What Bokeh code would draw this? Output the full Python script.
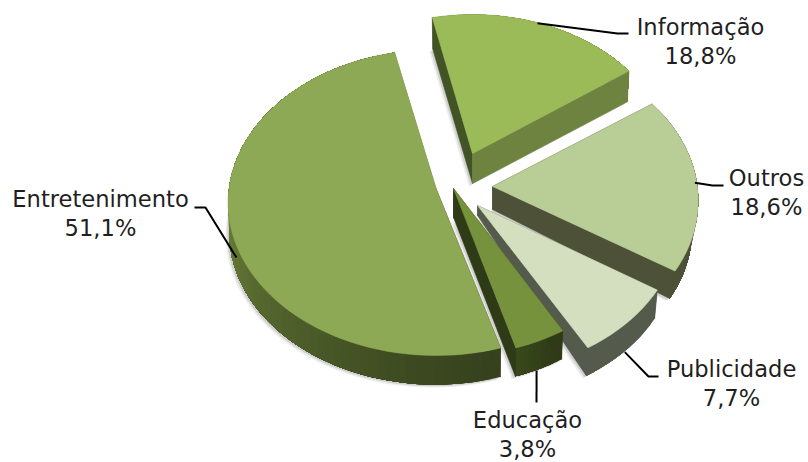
import numpy as np
from bokeh.models import Range1d, ColumnDataSource
from bokeh.plotting import figure
from bokeh.embed import file_html
from bokeh.resources import INLINE
from bokeh.core.properties import value

# data
labels = ["Informação", "Outros", "Publicidade", "Educação", "Entretenimento"]
percent_text = ["18,8%", "18,6%", "7,7%", "3,8%", "51,1%"]
shares = [18.8, 18.6, 7.7, 3.8, 51.1]

# style
top_colors = ["#9BBB59", "#B9CD96", "#D3DFBF", "#76923C", "#8EA955"]
cut_start_colors = ["#425325", "#4C5138", "#545B4C", "#2F3A17", "#36421D"]
cut_end_colors = ["#6E8340", "#4C5138", "#545B4C", "#2F3A17", "#6C8039"]
arc_start_colors = ["#6E8340", "#4C5138", "#545B4C", "#2F3A17", "#36421D"]
arc_end_colors = ["#6E8340", "#4C5138", "#545B4C", "#3A4A1C", "#6F843C"]
apex_x = [472, 492, 477, 453, 435.5]
apex_y = [153, 186, 205, 188, 188]
apex_depth = [30, 23, 10, 29, 30]
x_scale = [0.97, 0.99, 0.975, 0.965, 1.0]
base_scale = [0.99, 0.97, 0.985, 0.99, 0.995]
leader_on_wall = [False, False, True, True, True]
leader_shift = [-2, -2, -3, -3.5, 5.5]
elbow_x = [617, 712, 648, 536, 205]
elbow_y = [33, 185, 376, 402, 207]
end_x = [628, 723, 658, 536, 194]
end_y = [33, 185, 376, 402, 207]
label_x = [700, 766, 731, 527, 100]
label_y = [26, 177, 368, 419, 198]
line_gap = 29

START_DEG = -12.6
RX, RY, K, DEPTH = 207.0, 151.7, 0.0915, 30.0


def disc(t):
    w = 1 + K * np.cos(t)
    return RX * np.sin(t) / w, -RY * np.cos(t) / w


def mix(a, b, f):
    ca = [int(a[i:i + 2], 16) for i in (1, 3, 5)]
    cb = [int(b[i:i + 2], 16) for i in (1, 3, 5)]
    return "#%02x%02x%02x" % tuple(round(x + (y - x) * f) for x, y in zip(ca, cb))


p = figure(width=808, height=462, output_backend="svg", toolbar_location=None,
           x_range=Range1d(0, 808), y_range=Range1d(462, 0), min_border=0)
p.axis.visible = False
p.grid.visible = False
p.outline_line_color = None
p.background_fill_color = None
p.border_fill_color = None


def poly(xs, ys, color, alpha=1.0, lw=0.6):
    p.patch(list(xs), list(ys), fill_color=color, line_color=color if lw else None,
            line_width=lw, fill_alpha=alpha, line_alpha=alpha)


edges = START_DEG + np.cumsum([0] + [s * 3.6 for s in shares])
slices = []
for i in range(len(shares)):
    ts = np.radians(edges[i])
    te = np.radians(edges[i + 1])
    t = np.linspace(ts, te, int(max(12, (te - ts) * 24)))
    dx, dy = disc(t)
    dx = dx * x_scale[i]
    ax, ay = apex_x[i], apex_y[i]
    x, y = ax + dx, ay + dy
    bx = ax + dx * base_scale[i]
    by = ay + dy * base_scale[i] + DEPTH
    slices.append((t, x, y, bx, by, ax, ay, ay + apex_depth[i]))

# soft shadows under the bases
for t, x, y, bx, by, ax, ay, aby in slices:
    for off, alpha in ((3.5, 0.10), (2, 0.16)):
        xs = np.r_[ax, bx] - off
        ys = np.r_[aby, by] + off * 0.8
        poly(xs, ys, "#404040", alpha, 0)

for i, (t, x, y, bx, by, ax, ay, aby) in enumerate(slices):
    # outer wall: each band reaches the far end, so no seams show between bands
    vis_end = min(t[-1], np.radians(270)) if t[0] < np.radians(270) else t[-1]
    for j in range(len(t) - 1):
        f = np.clip((t[j] - t[0]) / max(vis_end - t[0], 1e-6), 0, 1) ** 1.3
        poly(np.r_[x[j:], bx[j:][::-1]], np.r_[y[j:], by[j:][::-1]],
             mix(arc_start_colors[i], arc_end_colors[i], f), lw=0)
    # cut faces
    poly([ax, x[0], bx[0], ax], [ay, y[0], by[0], aby], cut_start_colors[i])
    poly([ax, x[-1], bx[-1], ax], [ay, y[-1], by[-1], aby], cut_end_colors[i])
    # top face
    poly(np.r_[ax, x], np.r_[ay, y], top_colors[i])

# leader lines
for i, (t, x, y, bx, by, ax, ay, aby) in enumerate(slices):
    m = np.radians((edges[i] + edges[i + 1]) / 2)
    dx, dy = disc(m)
    sx = ax + dx * x_scale[i] + leader_shift[i]
    sy = ay + dy + (DEPTH if leader_on_wall[i] else 0)
    p.line([sx, elbow_x[i], end_x[i]], [sy, elbow_y[i], end_y[i]],
           line_color="#000000", line_width=2)

# labels
src = ColumnDataSource(dict(
    x=label_x * 2,
    y=label_y + [v + line_gap for v in label_y],
    text=labels + percent_text))
p.text("x", "y", text="text", source=src, text_align="center", text_baseline="middle",
       text_font=value("DejaVu Sans"), text_font_size="22.6px", text_color="#1f1f1f")

open("out.html", "w").write(file_html(p, INLINE))
